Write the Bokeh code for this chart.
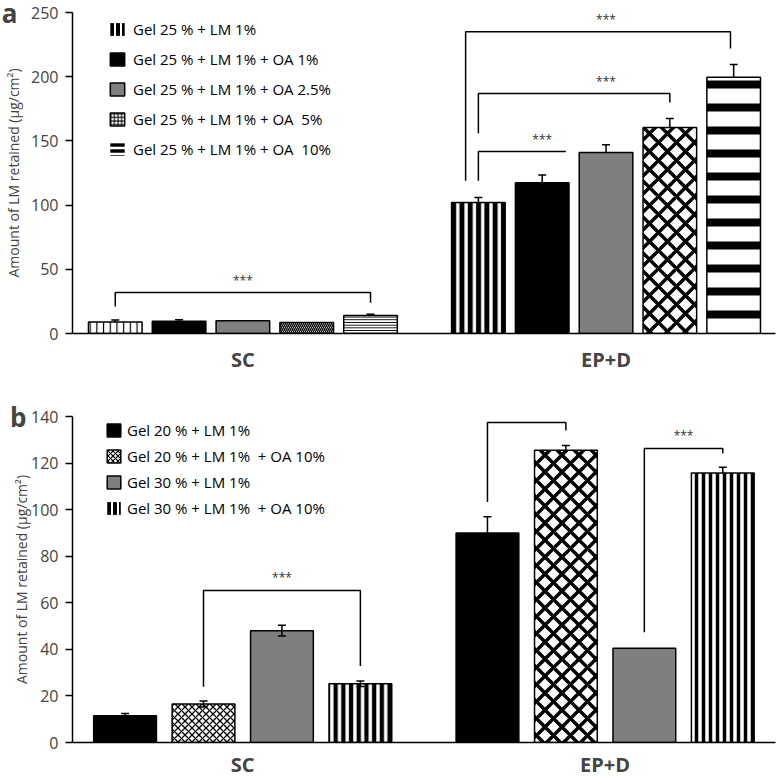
from bokeh.plotting import figure
from bokeh.models import (ColumnDataSource, Range1d, FixedTicker, LinearAxis,
                          Legend, LegendItem, Whisker, TeeHead)
from bokeh.layouts import column
from bokeh.embed import file_html
from bokeh.resources import INLINE
from bokeh.core.properties import value

FONT = "Open Sans"
GREY = "#7f7f7f"
NAN = float("nan")

# ---------------- data ----------------
groups = ["SC", "EP+D"]

a_series = ["Gel 25 % + LM 1%", "Gel 25 % + LM 1% + OA 1%", "Gel 25 % + LM 1% + OA 2.5%",
            "Gel 25 % + LM 1% + OA  5%", "Gel 25 % + LM 1% + OA  10%"]
a_sc_mean = [9, 9.5, 10, 8.5, 14]
a_sc_err = [1.5, 1.2, 0, 0, 1]
a_epd_mean = [102, 117.5, 141, 160.5, 199.5]
a_epd_err = [4, 6, 6, 7, 10]
a_yticks = [0, 50, 100, 150, 200, 250]

b_series = ["Gel 20 % + LM 1%", "Gel 20 % + LM 1%  + OA 10%", "Gel 30 % + LM 1%",
            "Gel 30 % + LM 1%  + OA 10%"]
b_sc_mean = [11.5, 16.5, 48, 25.2]
b_sc_err = [1, 1.3, 2.3, 1.2]
b_epd_mean = [90, 125.5, 40.5, 115.7]
b_epd_err = [7, 2, 0, 2.5]
b_yticks = [0, 20, 40, 60, 80, 100, 120, 140]

y_title = "Amount of LM retained (μg/cm²)"

# significance brackets: (group, left bar, right bar, level, left end, right end, star bar, has right leg)
a_brackets = [(0, 0, 4, 32, 21, 24, 2, True),
              (1, 0, 1.37, 141.7, 119, 141.7, 1, False),
              (1, 0, 3, 187, 156, 180, 2, True),
              (1, -0.2, 3.95, 235, 119, 222, 2, True)]
b_brackets = [(0, 1, 3, 65.3, 23.9, 32.9, 2, True),
              (1, 0, 1, 137.4, 103.3, 134, 0.5, True),
              (1, 2, 3, 126.3, 47.4, 124.2, 2.5, True)]

# ---------------- styles ----------------
# (fill, hatch pattern, hatch scale, hatch weight)
a_bar_styles = [
    [("white", "|", 6.7, 1.2), ("black", " ", 1, 1), (GREY, " ", 1, 1),
     ("white", "\\", 4, 1.4), ("white", "-", 2.7, 1.1)],
    [("white", "|", 8.3, 5), ("black", " ", 1, 1), (GREY, " ", 1, 1),
     ("white", "x", 18, 3.5), ("white", "-", 23, 8)],
]
a_leg_styles = [("white", "|", 6, 4, 0), ("black", " ", 1, 1, 1), (GREY, " ", 1, 1, 1),
                ("white", "+", 3.6, 1, 1), ("white", "-", 6, 3.5, 0)]
b_bar_styles = [
    [("black", " ", 1, 1), ("white", "x", 7, 1.3), (GREY, " ", 1, 1), ("white", "|", 7.7, 4.3)],
    [("black", " ", 1, 1), ("white", "x", 17, 3.5), (GREY, " ", 1, 1), ("white", "|", 7, 3.5)],
]
b_leg_styles = [("black", " ", 1, 1, 1), ("white", "x", 5, 1.2, 1), (GREY, " ", 1, 1, 1),
                ("white", "|", 6, 4, 0)]


def panel(series, means, errs, sym, centers, unit_px, bar_w, bar_styles, leg_styles,
          brackets, star_dy, yticks, width, height, borders, legend_cfg, letter,
          letter_standoff, title_standoff, grp_standoff):
    bl, br, bt, bb = borders
    fw = width - bl - br
    fh = height - bt - bb
    n = len(series)
    p = figure(width=width, height=height, output_backend="svg", toolbar_location=None,
               x_range=Range1d(0, fw / unit_px), y_range=Range1d(0, yticks[-1]),
               min_border_left=bl, min_border_right=br, min_border_top=bt, min_border_bottom=bb)
    p.outline_line_color = None
    p.grid.visible = False
    p.background_fill_color = "white"

    xs, tops, fills, pats, scales, weights = [], [], [], [], [], []
    for g, c in enumerate(centers):
        for i in range(n):
            xs.append(c + i - (n - 1) / 2)
            tops.append(means[g][i])
            f, pat, sc, wt = bar_styles[g][i]
            fills.append(f); pats.append(pat); scales.append(sc); weights.append(wt)
    src = ColumnDataSource(dict(x=xs, top=tops, fill=fills, pat=pats, sc=scales, wt=weights))
    p.vbar(x="x", top="top", bottom=0, width=bar_w, source=src, fill_color="fill",
           line_color="black", line_width=1.5, hatch_pattern="pat", hatch_scale="sc",
           hatch_weight="wt", hatch_color="black")

    # error bars
    for g, c in enumerate(centers):
        bx, up, lo = [], [], []
        for i in range(n):
            if errs[g][i] > 0:
                bx.append(c + i - (n - 1) / 2)
                up.append(means[g][i] + errs[g][i])
                lo.append(means[g][i] - errs[g][i] if sym[g] else means[g][i])
        es = ColumnDataSource(dict(base=bx, upper=up, lower=lo))
        w = Whisker(source=es, base="base", upper="upper", lower="lower", line_width=1.5,
                    line_color="black", level="annotation",
                    upper_head=TeeHead(size=8, line_width=1.5, line_color="black"),
                    lower_head=TeeHead(size=8, line_width=1.5, line_color="black") if sym[g] else None)
        p.add_layout(w)

    # significance brackets
    bxs, bys, sx, sy = [], [], [], []
    for g, l, r, lvl, le, re, st, rleg in brackets:
        off = centers[g] - (n - 1) / 2
        xl, xr = off + l, off + r
        if rleg:
            bxs.append([xl, xl, xr, xr]); bys.append([le, lvl, lvl, re])
        else:
            bxs.append([xl, xl, xr]); bys.append([le, lvl, lvl])
        sx.append(off + st); sy.append(lvl)
    p.multi_line(xs=bxs, ys=bys, line_color="black", line_width=1.5)
    p.text(x=sx, y=sy, text=["***"] * len(sx), text_align="center", text_baseline="middle",
           y_offset=star_dy, text_font=value(FONT), text_font_size="12px", text_color="#333333")

    # legend with sample renderers (no visible data)
    items = []
    for s, (f, pat, sc, wt, la) in zip(series, leg_styles):
        r = p.vbar(x=[NAN], top=[NAN], width=0.8, fill_color=f, line_color="black", line_width=1.5,
                   line_alpha=la, hatch_pattern=pat, hatch_scale=sc, hatch_weight=wt,
                   hatch_color="black")
        items.append(LegendItem(label=s, renderers=[r]))
    lx, ltop, gw, gh, spc, stoff, ih = legend_cfg
    lh = len(series) * ih + (len(series) - 1) * spc
    leg = Legend(items=items, location=(lx, fh - ltop - lh), padding=0, margin=0, spacing=spc,
                 glyph_width=gw, glyph_height=gh, label_height=gh, label_standoff=stoff,
                 label_text_font=FONT, label_text_font_size="15px", label_text_color="black",
                 border_line_alpha=0, background_fill_alpha=0)
    p.add_layout(leg)

    # axes
    p.yaxis.ticker = FixedTicker(ticks=yticks)
    p.yaxis.major_label_text_font = FONT
    p.yaxis.major_label_text_font_size = "16px"
    p.yaxis.major_tick_out = 7
    p.yaxis.major_tick_in = 0
    p.yaxis.minor_tick_line_color = None
    p.yaxis.major_label_standoff = 7
    p.axis.axis_line_width = 1.5
    p.axis.major_tick_line_width = 1.5
    p.xaxis.ticker = FixedTicker(ticks=centers)
    p.xaxis.major_label_overrides = {c: g for c, g in zip(centers, groups)}
    p.xaxis.major_tick_line_color = None
    p.xaxis.minor_tick_line_color = None
    p.xaxis.major_tick_out = 0
    p.xaxis.major_tick_in = 0
    p.xaxis.major_label_standoff = grp_standoff
    p.xaxis.major_label_text_font = FONT
    p.xaxis.major_label_text_font_size = "20px"
    p.xaxis.major_label_text_font_style = "bold"

    # outer left axis carries the panel letter (at the top tick) and the axis title
    outer = LinearAxis(ticker=FixedTicker(ticks=[yticks[-1]]),
                       major_label_overrides={yticks[-1]: letter},
                       axis_line_color=None, major_tick_line_color=None,
                       minor_tick_line_color=None, major_tick_out=0, major_tick_in=0,
                       major_label_standoff=letter_standoff, major_label_text_font=FONT,
                       major_label_text_font_size="26px", major_label_text_font_style="bold",
                       axis_label=y_title, axis_label_text_font=FONT,
                       axis_label_text_font_size="14px", axis_label_text_font_style="normal",
                       axis_label_standoff=title_standoff)
    p.add_layout(outer, "left")
    return p


# canvases start 20px above / 8px left of the page edge (column margin) so the panel
# letters and axis titles can sit close to the edge like in the original figure
pa = panel(a_series, [a_sc_mean, a_epd_mean], [a_sc_err, a_epd_err], [False, False],
           [2.67, 8.36], 64, 0.84, a_bar_styles, a_leg_styles, a_brackets, -12, a_yticks,
           788, 415, (80, 3, 32, 62), (36, 7, 18, 16, 10, 7, 20), "a", 11, -24, 12)
pb = panel(b_series, [b_sc_mean, b_epd_mean], [b_sc_err, b_epd_err], [True, False],
           [2.17, 6.79], 79, 0.8, b_bar_styles, b_leg_styles, b_brackets, -13, b_yticks,
           788, 385, (75, 5, 21, 36), (33, 5.5, 17, 16, 6, 5, 20), "b", 2, -24, 8)

layout = column(pa, pb, spacing=0, margin=(-20, 0, 0, -8))
open("out.html", "w").write(file_html(layout, INLINE))
